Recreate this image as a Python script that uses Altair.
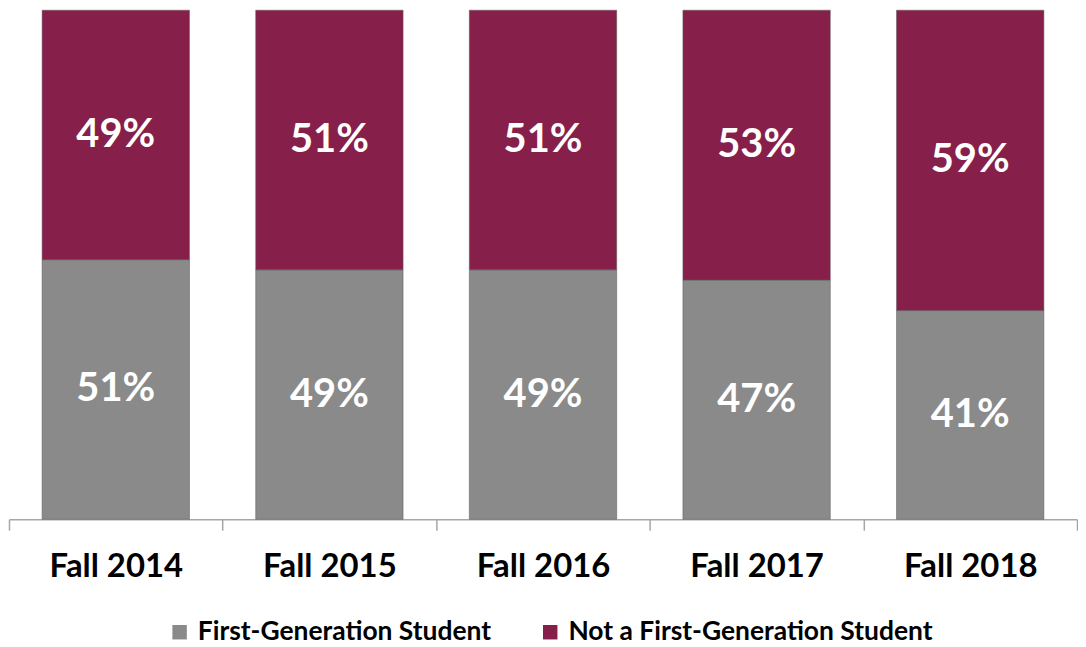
import altair as alt
import pandas as pd

years = ["Fall 2014", "Fall 2015", "Fall 2016", "Fall 2017", "Fall 2018"]
first_gen = [51, 49, 49, 47, 41]
not_first_gen = [49, 51, 51, 53, 59]
groups = ["First-Generation Student", "Not a First-Generation Student"]
colors = ["#8a8a8a", "#86204a"]

rows = []
for i, y in enumerate(years):
    rows.append({"year": y, "group": groups[0], "value": first_gen[i], "order": 0})
    rows.append({"year": y, "group": groups[1], "value": not_first_gen[i], "order": 1})
df = pd.DataFrame(rows)

FONT = "Lato"

base = alt.Chart(df).transform_stack(
    stack="value", groupby=["year"], as_=["v0", "v1"],
    sort=[alt.SortField("order", order="ascending")]
).transform_calculate(
    mid="(datum.v0 + datum.v1) / 2",
    label="datum.value + '%'"
)

xenc = alt.X("year:N", sort=years, title=None,
             scale=alt.Scale(paddingInner=0, paddingOuter=0),
             axis=alt.Axis(labelAngle=0, labelFont=FONT, labelFontSize=33,
                           labelFontWeight="bold", labelColor="#000000",
                           labelPadding=20, tickBand="extent", tickSize=11,
                           tickColor="#a6a6a6", domainColor="#a6a6a6",
                           domainWidth=1.5, tickWidth=1.5))

bars = base.mark_bar(width=alt.RelativeBandSize(0.69), stroke="#5a5a5a",
                     strokeWidth=1, strokeOpacity=0.5).encode(
    x=xenc,
    y=alt.Y("v0:Q", scale=alt.Scale(domain=[0, 100], nice=False), axis=None),
    y2="v1:Q",
    color=alt.Color("group:N", sort=groups,
                    scale=alt.Scale(domain=groups, range=colors),
                    legend=alt.Legend(title=None, orient="none", direction="horizontal",
                                      legendX=158, legendY=611,
                                      symbolType="square", symbolSize=210,
                                      symbolStrokeWidth=0,
                                      labelFont=FONT, labelFontSize=26.5,
                                      labelFontWeight="bold", labelColor="#000000",
                                      labelOffset=5,
                                      columnPadding=46, labelLimit=600))
)

text = base.mark_text(font=FONT, fontSize=40, fontWeight="bold", color="white",
                      baseline="middle").encode(
    x=alt.X("year:N", sort=years),
    y=alt.Y("mid:Q"),
    text="label:N"
)

chart = alt.layer(bars, text).properties(
    width=1072, height=511, padding=0
).configure(background="white").configure_view(stroke=None)

chart.save("out.html", embed_options={"renderer": "svg", "actions": False})
